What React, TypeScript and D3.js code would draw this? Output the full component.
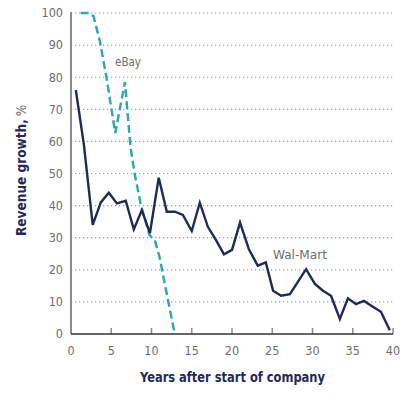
import * as d3 from "d3";

// Wal-Mart revenue growth, % (years after start of company)
const walmartYears = [0.6, 1.6, 2.7, 3.7, 4.7, 5.7, 6.8, 7.8, 8.8, 9.8, 10.9, 11.9, 12.9, 13.9, 15.0, 16.0, 17.0, 18.0, 19.0, 20.0, 21.0, 22.1, 23.2, 24.2, 25.1, 26.1, 27.2, 28.2, 29.2, 30.3, 31.3, 32.3, 33.4, 34.4, 35.4, 36.4, 37.5, 38.5, 39.6];
const walmartGrowth = [76, 59, 34, 41, 44, 40.7, 41.5, 32.6, 38.6, 31.4, 48.7, 38.1, 38.1, 37.1, 32.1, 40.9, 33.4, 29.3, 24.8, 26.2, 34.7, 26.4, 21.3, 22.3, 13.5, 11.9, 12.4, 16.3, 20.2, 15.6, 13.5, 11.9, 4.7, 11.1, 9.3, 10.3, 8.5, 6.9, 1.2];

// eBay revenue growth, % (capped at 100)
const ebayYears = [1.2, 2.3, 2.8, 3.6, 4.4, 5.5, 6.7, 7.4, 7.9, 8.7, 9.75, 10.4, 11.0, 11.8, 12.85];
const ebayGrowth = [100, 100, 99, 91, 80, 62.6, 78.5, 58, 50, 40, 30.8, 29.3, 24, 13.7, 0.5];

const xTicks = [0, 5, 10, 15, 20, 25, 30, 35, 40];
const yTicks = [0, 10, 20, 30, 40, 50, 60, 70, 80, 90, 100];

const NAVY = "#1f2a58";
const TEAL = "#2aa6b4";
const FONT = "'Liberation Sans Narrow', 'DejaVu Sans Condensed', 'Liberation Sans', Arial, sans-serif";

export default function App() {
  const width = 411;
  const height = 404;
  const margin = { top: 13, right: 18, bottom: 70, left: 71 };

  const x = d3.scaleLinear().domain([0, 40]).range([margin.left, 393]);
  const y = d3.scaleLinear().domain([0, 100]).range([334, margin.top]);

  const line = d3.line<[number, number]>()
    .x(d => x(d[0]))
    .y(d => y(d[1]));

  const walmart = walmartYears.map((yr, i) => [yr, walmartGrowth[i]] as [number, number]);
  const ebay = ebayYears.map((yr, i) => [yr, ebayGrowth[i]] as [number, number]);

  return (
    <svg width={width} height={height} style={{ position: "absolute", left: 0, top: 0, background: "#fff" }} fontFamily={FONT}>
      {/* gridlines */}
      {yTicks.filter(t => t > 0).map(t => (
        <line key={t} x1={x(0)} x2={x(40)} y1={y(t)} y2={y(t)}
          stroke="#9a9a9a" strokeWidth={1.2} strokeDasharray="1.2,2.8" />
      ))}

      {/* y axis */}
      <line x1={x(0)} x2={x(0)} y1={y(100) - 1} y2={y(0)} stroke="#8c8c8c" strokeWidth={2} />
      {yTicks.map(t => (
        <text key={t} x={x(0) - 8} y={y(t)} dy="0.35em" textAnchor="end"
          fontSize={12.5} fill="#6e6e6e">{t}</text>
      ))}

      {/* x axis */}
      {xTicks.filter(t => t > 0).map(t => (
        <line key={t} x1={x(t)} x2={x(t)} y1={y(0)} y2={y(0) - 6} stroke="#8c8c8c" strokeWidth={1.5} />
      ))}
      <line x1={x(0)} x2={x(40)} y1={y(0)} y2={y(0)} stroke="#333" strokeWidth={1.5} />
      {xTicks.map(t => (
        <text key={t} x={x(t)} y={355} textAnchor="middle" fontSize={12.5} fill="#6e6e6e">{t}</text>
      ))}

      {/* series */}
      <path d={line(ebay) ?? ""} fill="none" stroke={TEAL} strokeWidth={2.4} strokeDasharray="8,4" />
      <path d={line(walmart) ?? ""} fill="none" stroke={NAVY} strokeWidth={2.4} strokeLinejoin="miter" />

      {/* labels */}
      <text x={115} y={66} fontSize={12.5} fill="#6e6e6e" textLength={26} lengthAdjust="spacingAndGlyphs">eBay</text>
      <text x={273} y={259} fontSize={12.5} fill="#6e6e6e" textLength={54} lengthAdjust="spacingAndGlyphs">Wal-Mart</text>

      {/* axis titles */}
      <text x={140} y={382} fontSize={13.5} fontWeight="bold" fill={NAVY}
        textLength={185} lengthAdjust="spacingAndGlyphs">Years after start of company</text>
      <text transform="translate(26,236) rotate(-90)" fontSize={13.5} fill={NAVY}>
        <tspan fontWeight="bold">Revenue growth,</tspan>
        <tspan fill="#6e6e6e" dx={3}>%</tspan>
      </text>
    </svg>
  );
}
